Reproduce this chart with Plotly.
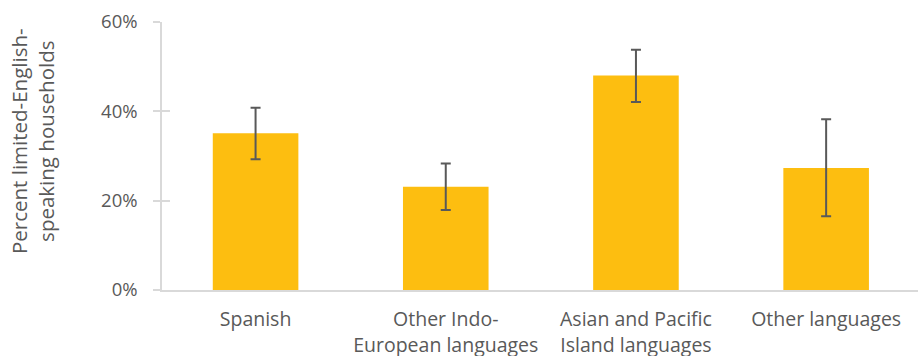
import plotly.graph_objects as go

# Share of limited-English-speaking households by language group
categories = [
    "Spanish",
    "Other Indo-<br>European languages",
    "Asian and Pacific<br>Island languages",
    "Other languages",
]
percent = [35.1, 23.1, 48.0, 27.3]
upper_bound = [40.8, 28.3, 53.8, 38.2]
lower_bound = [29.3, 17.9, 42.1, 16.5]
y_ticks = [0, 20, 40, 60]
y_tick_labels = ["0%", "20%", "40%", "60%"]

err_plus = [u - v for u, v in zip(upper_bound, percent)]
err_minus = [v - l for v, l in zip(percent, lower_bound)]

FONT = "Open Sans"
TEXT = "#595959"
AXIS = "#d9d9d9"

fig = go.Figure()
fig.add_trace(
    go.Bar(
        x=categories,
        y=percent,
        width=0.45,
        marker=dict(color="#FDBE10", line=dict(width=0)),
        error_y=dict(
            type="data",
            symmetric=False,
            array=err_plus,
            arrayminus=err_minus,
            color="#595959",
            thickness=2,
            width=5,
        ),
        hoverinfo="skip",
    )
)
# second y axis only supplies the inward half of the crossing tick marks
fig.add_trace(
    go.Scatter(x=[categories[0]], y=[0], yaxis="y2", mode="markers",
               marker=dict(opacity=0), showlegend=False, hoverinfo="skip")
)

fig.update_layout(
    width=918,
    height=356,
    margin=dict(l=162, r=0, t=22, b=66, autoexpand=False),
    paper_bgcolor="white",
    plot_bgcolor="white",
    showlegend=False,
    font=dict(family=FONT, size=18, color=TEXT),
    xaxis=dict(
        range=[-0.492, 3.483],
        automargin=False,
        showline=True,
        linecolor=AXIS,
        linewidth=1.5,
        ticks="",
        showgrid=False,
        tickfont=dict(family=FONT, size=19.5, color=TEXT),
        ticklabelstandoff=11,
    ),
    yaxis=dict(
        range=[0, 60],
        automargin=False,
        tickvals=y_ticks,
        ticktext=y_tick_labels,
        showline=True,
        linecolor=AXIS,
        linewidth=1.5,
        ticks="outside",
        ticklen=7,
        tickwidth=1.5,
        tickcolor=AXIS,
        showgrid=False,
        zeroline=False,
        tickfont=dict(family=FONT, size=18.5, color=TEXT),
        ticklabelstandoff=12,
    ),
    yaxis2=dict(
        range=[0, 60],
        overlaying="y",
        side="left",
        automargin=False,
        tickvals=y_ticks,
        ticks="inside",
        ticklen=8,
        tickwidth=1.5,
        tickcolor=AXIS,
        showticklabels=False,
        showgrid=False,
        zeroline=False,
        showline=False,
    ),
    annotations=[
        dict(
            text="Percent limited-English-<br>speaking households",
            xref="paper",
            yref="paper",
            x=(32 - 162) / 756,
            y=(290 - 141) / 268,
            xanchor="center",
            yanchor="middle",
            textangle=-90,
            showarrow=False,
            font=dict(family=FONT, size=20.5, color=TEXT),
        )
    ],
)

fig.write_html("out.html")
